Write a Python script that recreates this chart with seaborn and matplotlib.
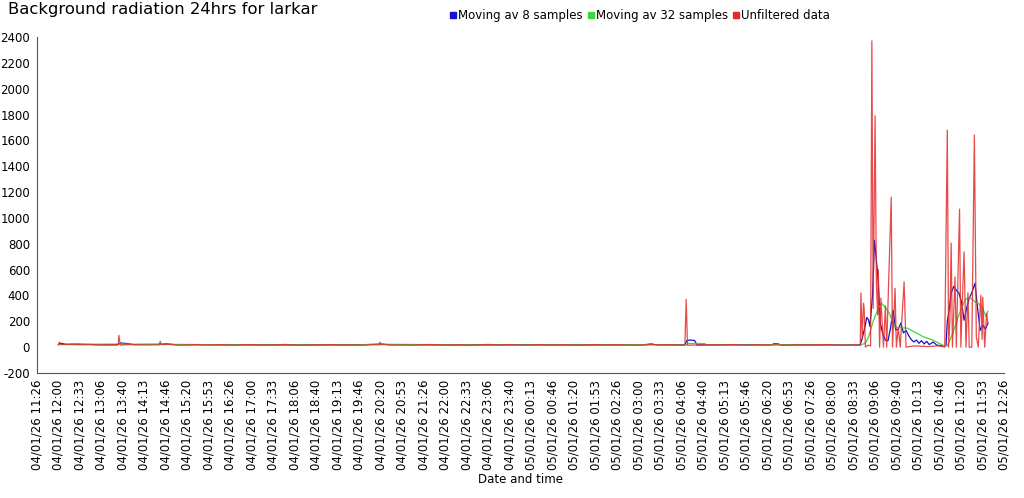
import numpy as np
import pandas as pd
import matplotlib
matplotlib.use("Agg")
import matplotlib.pyplot as plt
import matplotlib.dates as mdates
from matplotlib.lines import Line2D
import seaborn as sns

sns.set_theme(style="white")
plt.rcParams['font.family'] = ['DejaVu Sans']
plt.rcParams['axes.unicode_minus'] = False
plt.rcParams['text.color'] = 'black'
plt.rcParams['axes.labelcolor'] = 'black'

# time axis: minutes after 04/01/26 11:26:40
start = pd.Timestamp("2026-01-04 11:26:40")
span_min = 1500
n_ticks = 46

# quiet background samples (minutes, counts)
quiet_min = np.arange(40, 1276, 15)
quiet_counts = [22, 20, 18, 21, 17, 19, 16, 20, 18, 17, 19, 21, 16, 18, 20, 17,
                19, 18, 16, 20, 19, 17, 18, 21, 17, 16, 19, 18, 20, 17, 18, 16,
                19, 21, 17, 18, 16, 19, 20, 18, 17, 19, 16, 18, 21, 17, 19, 18,
                16, 20, 17, 18, 19, 16, 18, 20, 17, 19, 18, 16, 17, 20, 18, 19,
                17, 16, 18, 19, 17, 20, 18, 16, 19, 17, 18, 16, 19, 17, 18, 20,
                17, 16, 18]

# unfiltered events (minutes, counts)
event_min = [33, 35, 37, 126, 127, 129, 190, 191, 193, 531, 532, 534,
             1005, 1007, 1009,
             1277, 1278, 1280, 1282, 1283, 1285, 1289, 1293, 1295, 1297, 1300,
             1302, 1304, 1305, 1307, 1309, 1313, 1316, 1318, 1325, 1327, 1331,
             1333, 1336, 1339, 1345, 1348, 1360, 1380, 1400, 1408, 1412, 1414,
             1416, 1418, 1420, 1424, 1426, 1431, 1433, 1438, 1441, 1444, 1446,
             1450, 1454, 1457, 1460, 1464, 1466, 1467, 1470, 1473, 1475]
event_counts = [18, 38, 20, 20, 92, 22, 18, 45, 20, 18, 38, 18,
                18, 370, 15,
                15, 420, 80, 340, 300, 0, 15, 10, 2370, 300, 1790,
                500, 250, 600, 0, 380, 0, 320, 0, 1160, 0, 455,
                0, 150, 0, 505, 0, 10, 5, 10, 0, 1680, 0,
                200, 807, 0, 544, 0, 1068, 0, 738, 0, 420, 0,
                0, 1641, 80, 0, 402, 60, 387, 0, 263, 180]

# moving average 8 samples
ma8_min = [33, 36, 45, 60, 90, 125, 130, 140, 150, 192, 200, 215, 300, 400,
           500, 535, 545, 650, 750, 850, 940, 953, 960, 1005, 1008, 1012, 1020,
           1024, 1080, 1140, 1143, 1150, 1153, 1200, 1270, 1277,
           1280, 1284, 1287, 1290, 1292, 1296, 1299, 1303, 1305, 1308, 1312,
           1316, 1320, 1324, 1328, 1332, 1336, 1340, 1344, 1348, 1352, 1356,
           1360, 1364, 1368, 1372, 1376, 1380, 1384, 1390, 1396, 1404, 1410,
           1412, 1415, 1418, 1422, 1426, 1430, 1434, 1438, 1442, 1446, 1450,
           1455, 1459, 1463, 1467, 1471, 1475]
ma8_counts = [20, 30, 22, 24, 19, 18, 32, 28, 20, 22, 26, 19, 18, 17,
              18, 24, 19, 17, 18, 17, 18, 25, 18, 17, 50, 55, 52,
              17, 18, 18, 26, 25, 17, 17, 16, 18,
              70, 150, 230, 210, 160, 400, 828, 620, 495, 186, 100,
              54, 50, 150, 286, 132, 140, 186, 110, 130, 90, 60,
              40, 55, 30, 50, 25, 45, 20, 40, 15, 10, 10,
              200, 290, 418, 470, 440, 420, 350, 209, 300, 380, 420,
              495, 300, 130, 170, 140, 186]

# moving average 32 samples
ma32_min = [33, 60, 130, 160, 200, 300, 500, 540, 700, 960, 1000, 1008, 1010,
            1035, 1040, 1100, 1150, 1200, 1277,
            1285, 1290, 1297, 1305, 1310, 1317, 1322, 1330, 1340, 1350, 1360,
            1375, 1390, 1405, 1412, 1420, 1430, 1440, 1447, 1455, 1460, 1467,
            1472, 1475]
ma32_counts = [19, 22, 24, 22, 22, 18, 18, 22, 17, 19, 17, 18, 28,
               28, 17, 17, 20, 17, 15,
               31, 80, 200, 300, 340, 300, 263, 157, 150, 147, 120,
               80, 54, 15, 10, 100, 250, 370, 387, 350, 340, 300,
               235, 280]

y_ticks = list(range(-200, 2401, 200))


def frame(minutes, counts):
    d = pd.DataFrame({"m": minutes, "v": counts}).sort_values("m")
    d["t"] = start + pd.to_timedelta(d["m"], unit="min")
    return d


raw = frame(list(quiet_min) + event_min, quiet_counts + event_counts)
ma8 = frame(ma8_min, ma8_counts)
ma32 = frame(ma32_min, ma32_counts)

c_blue, c_green, c_red = "#1414c8", "#3cd83c", "#e42a2a"

fig = plt.figure(figsize=(10.24, 4.98), dpi=100)
ax = fig.add_axes([0.0361, 0.251, 0.9444, 0.6747])

sns.lineplot(data=ma8, x="t", y="v", ax=ax, color=c_blue, lw=0.9, estimator=None)
sns.lineplot(data=ma32, x="t", y="v", ax=ax, color=c_green, lw=0.9, estimator=None)
sns.lineplot(data=raw, x="t", y="v", ax=ax, color=c_red, lw=0.9, alpha=0.85,
             estimator=None)

end = start + pd.Timedelta(minutes=span_min)
ax.set_xlim(start, end)
ax.set_ylim(-200, 2400)
ax.set_yticks(y_ticks)
ax.set_xticks(pd.date_range(start, end, periods=n_ticks))
ax.xaxis.set_major_formatter(mdates.DateFormatter("%d/%m/%y %H:%M"))
ax.tick_params(axis="x", labelrotation=90)
ax.tick_params(direction="inout", length=6, width=0.8, colors="#333333",
               labelsize=8.5, labelcolor="black", pad=2)

for s in ["top", "right"]:
    ax.spines[s].set_visible(False)
for s in ["left", "bottom"]:
    ax.spines[s].set_color("#555555")
    ax.spines[s].set_linewidth(0.8)

ax.set_xlabel("Date and time", fontsize=8.5, labelpad=2, color="black")
ax.set_ylabel("")

fig.text(0.008, 0.995, "Background radiation 24hrs for larkar", fontsize=11.8,
         va="top", ha="left", color="black")

handles = [Line2D([], [], ls="", marker="s", ms=4, color=c)
           for c in (c_blue, c_green, c_red)]
fig.legend(handles, ["Moving av 8 samples", "Moving av 32 samples",
                     "Unfiltered data"],
           loc="center", bbox_to_anchor=(0.624, 0.968), ncol=3, frameon=False,
           fontsize=8.5, handletextpad=0.0, columnspacing=0.3, handlelength=0.8,
           borderpad=0)

fig.savefig("out.png", dpi=100)
